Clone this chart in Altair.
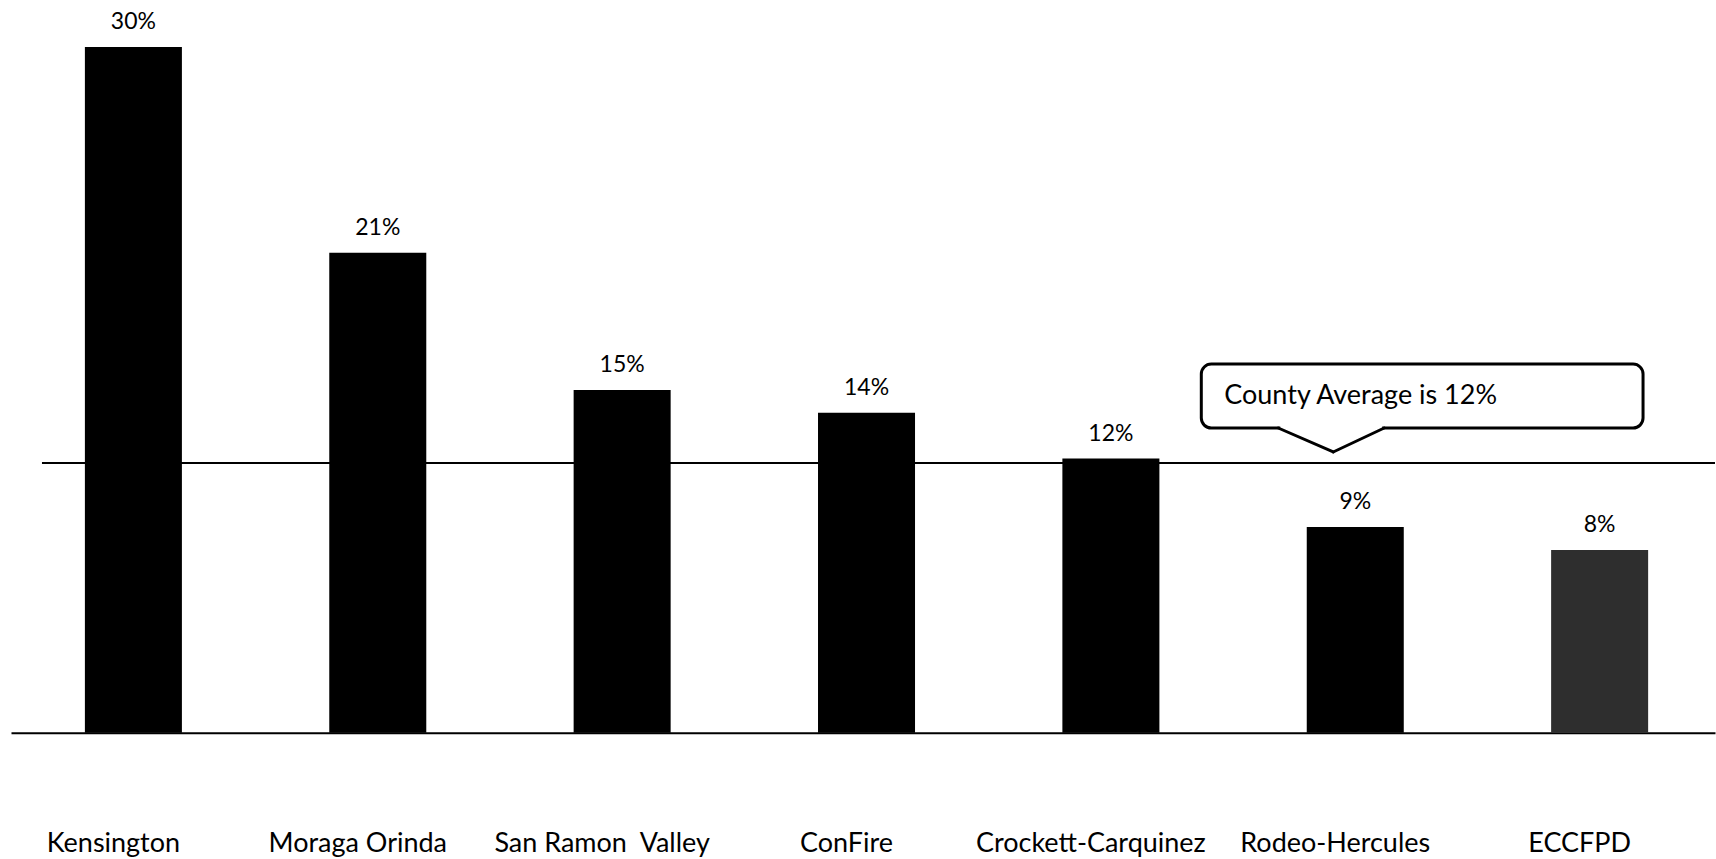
import altair as alt
import pandas as pd

districts = ["Kensington", "Moraga Orinda", "San Ramon\u00a0 Valley", "ConFire",
             "Crockett-Carquinez", "Rodeo-Hercules", "ECCFPD"]
values = [30, 21, 15, 14, 12, 9, 8]
county_average = 11.8
callout_text = "County Average is 12%"

df = pd.DataFrame({"district": districts, "value": values})

FONT = "Lato"
W, H = 1705, 733

x_axis = alt.Axis(labelAngle=0, labelFont=FONT, labelFontSize=27, labelColor="black",
                  labelPadding=119, labelBaseline="alphabetic", labelOffset=-20,
                  ticks=False, tickSize=0, domainColor="black", domainWidth=2,
                  grid=False, labelLimit=400)
x_scale = alt.Scale(paddingInner=0.603, paddingOuter=0.288, align=0.525)
y_scale = alt.Scale(domain=[0, 32.05], nice=False, zero=True)

base = alt.Chart(df)

bars = base.mark_bar().encode(
    x=alt.X("district:N", sort=districts, title=None, scale=x_scale, axis=x_axis),
    y=alt.Y("value:Q", scale=y_scale, axis=None),
    color=alt.condition(alt.datum.district == "ECCFPD", alt.value("#2e2e2e"), alt.value("black")),
)

labels = base.transform_calculate(lbl="datum.value + '%'").mark_text(
    font=FONT, fontSize=23, baseline="alphabetic", dy=-18, color="black"
).encode(
    x=alt.X("district:N", sort=districts, title=None, scale=x_scale, axis=x_axis),
    y=alt.Y("value:Q", scale=y_scale, axis=None),
    text="lbl:N",
)

avg_df = pd.DataFrame({"avg": [county_average]})
avg_rule = alt.Chart(avg_df).mark_rule(color="black", strokeWidth=2).encode(
    y=alt.Y("avg:Q", scale=y_scale, axis=None),
    x=alt.value(31), x2=alt.value(W),
)

note_df = pd.DataFrame({"label": [callout_text]})
note = alt.Chart(note_df)
box = note.mark_rect(fill="white", stroke="black", strokeWidth=3, cornerRadius=10).encode(
    x=alt.value(1191), x2=alt.value(1633), y=alt.value(364), y2=alt.value(428)
)
cover = note.mark_rule(color="white", strokeWidth=5).encode(
    x=alt.value(1270), x2=alt.value(1372), y=alt.value(428), y2=alt.value(428)
)
ptr1 = note.mark_rule(color="black", strokeWidth=3, strokeCap="round").encode(
    x=alt.value(1268), y=alt.value(428), x2=alt.value(1323), y2=alt.value(452)
)
ptr2 = note.mark_rule(color="black", strokeWidth=3, strokeCap="round").encode(
    x=alt.value(1323), y=alt.value(452), x2=alt.value(1374), y2=alt.value(428)
)
note_text = note.mark_text(font=FONT, fontSize=27, align="left", baseline="middle", color="black").encode(
    x=alt.value(1214), y=alt.value(396), text="label:N"
)

chart = alt.layer(bars, labels, avg_rule, box, cover, ptr1, ptr2, note_text).properties(
    width=W, height=H, background="white",
    padding={"left": 11, "top": 0, "right": 0, "bottom": 0}
).configure_view(stroke="transparent", strokeWidth=0).configure_axis(grid=False)

chart.save("out.html", embed_options={"renderer": "svg", "actions": False})
